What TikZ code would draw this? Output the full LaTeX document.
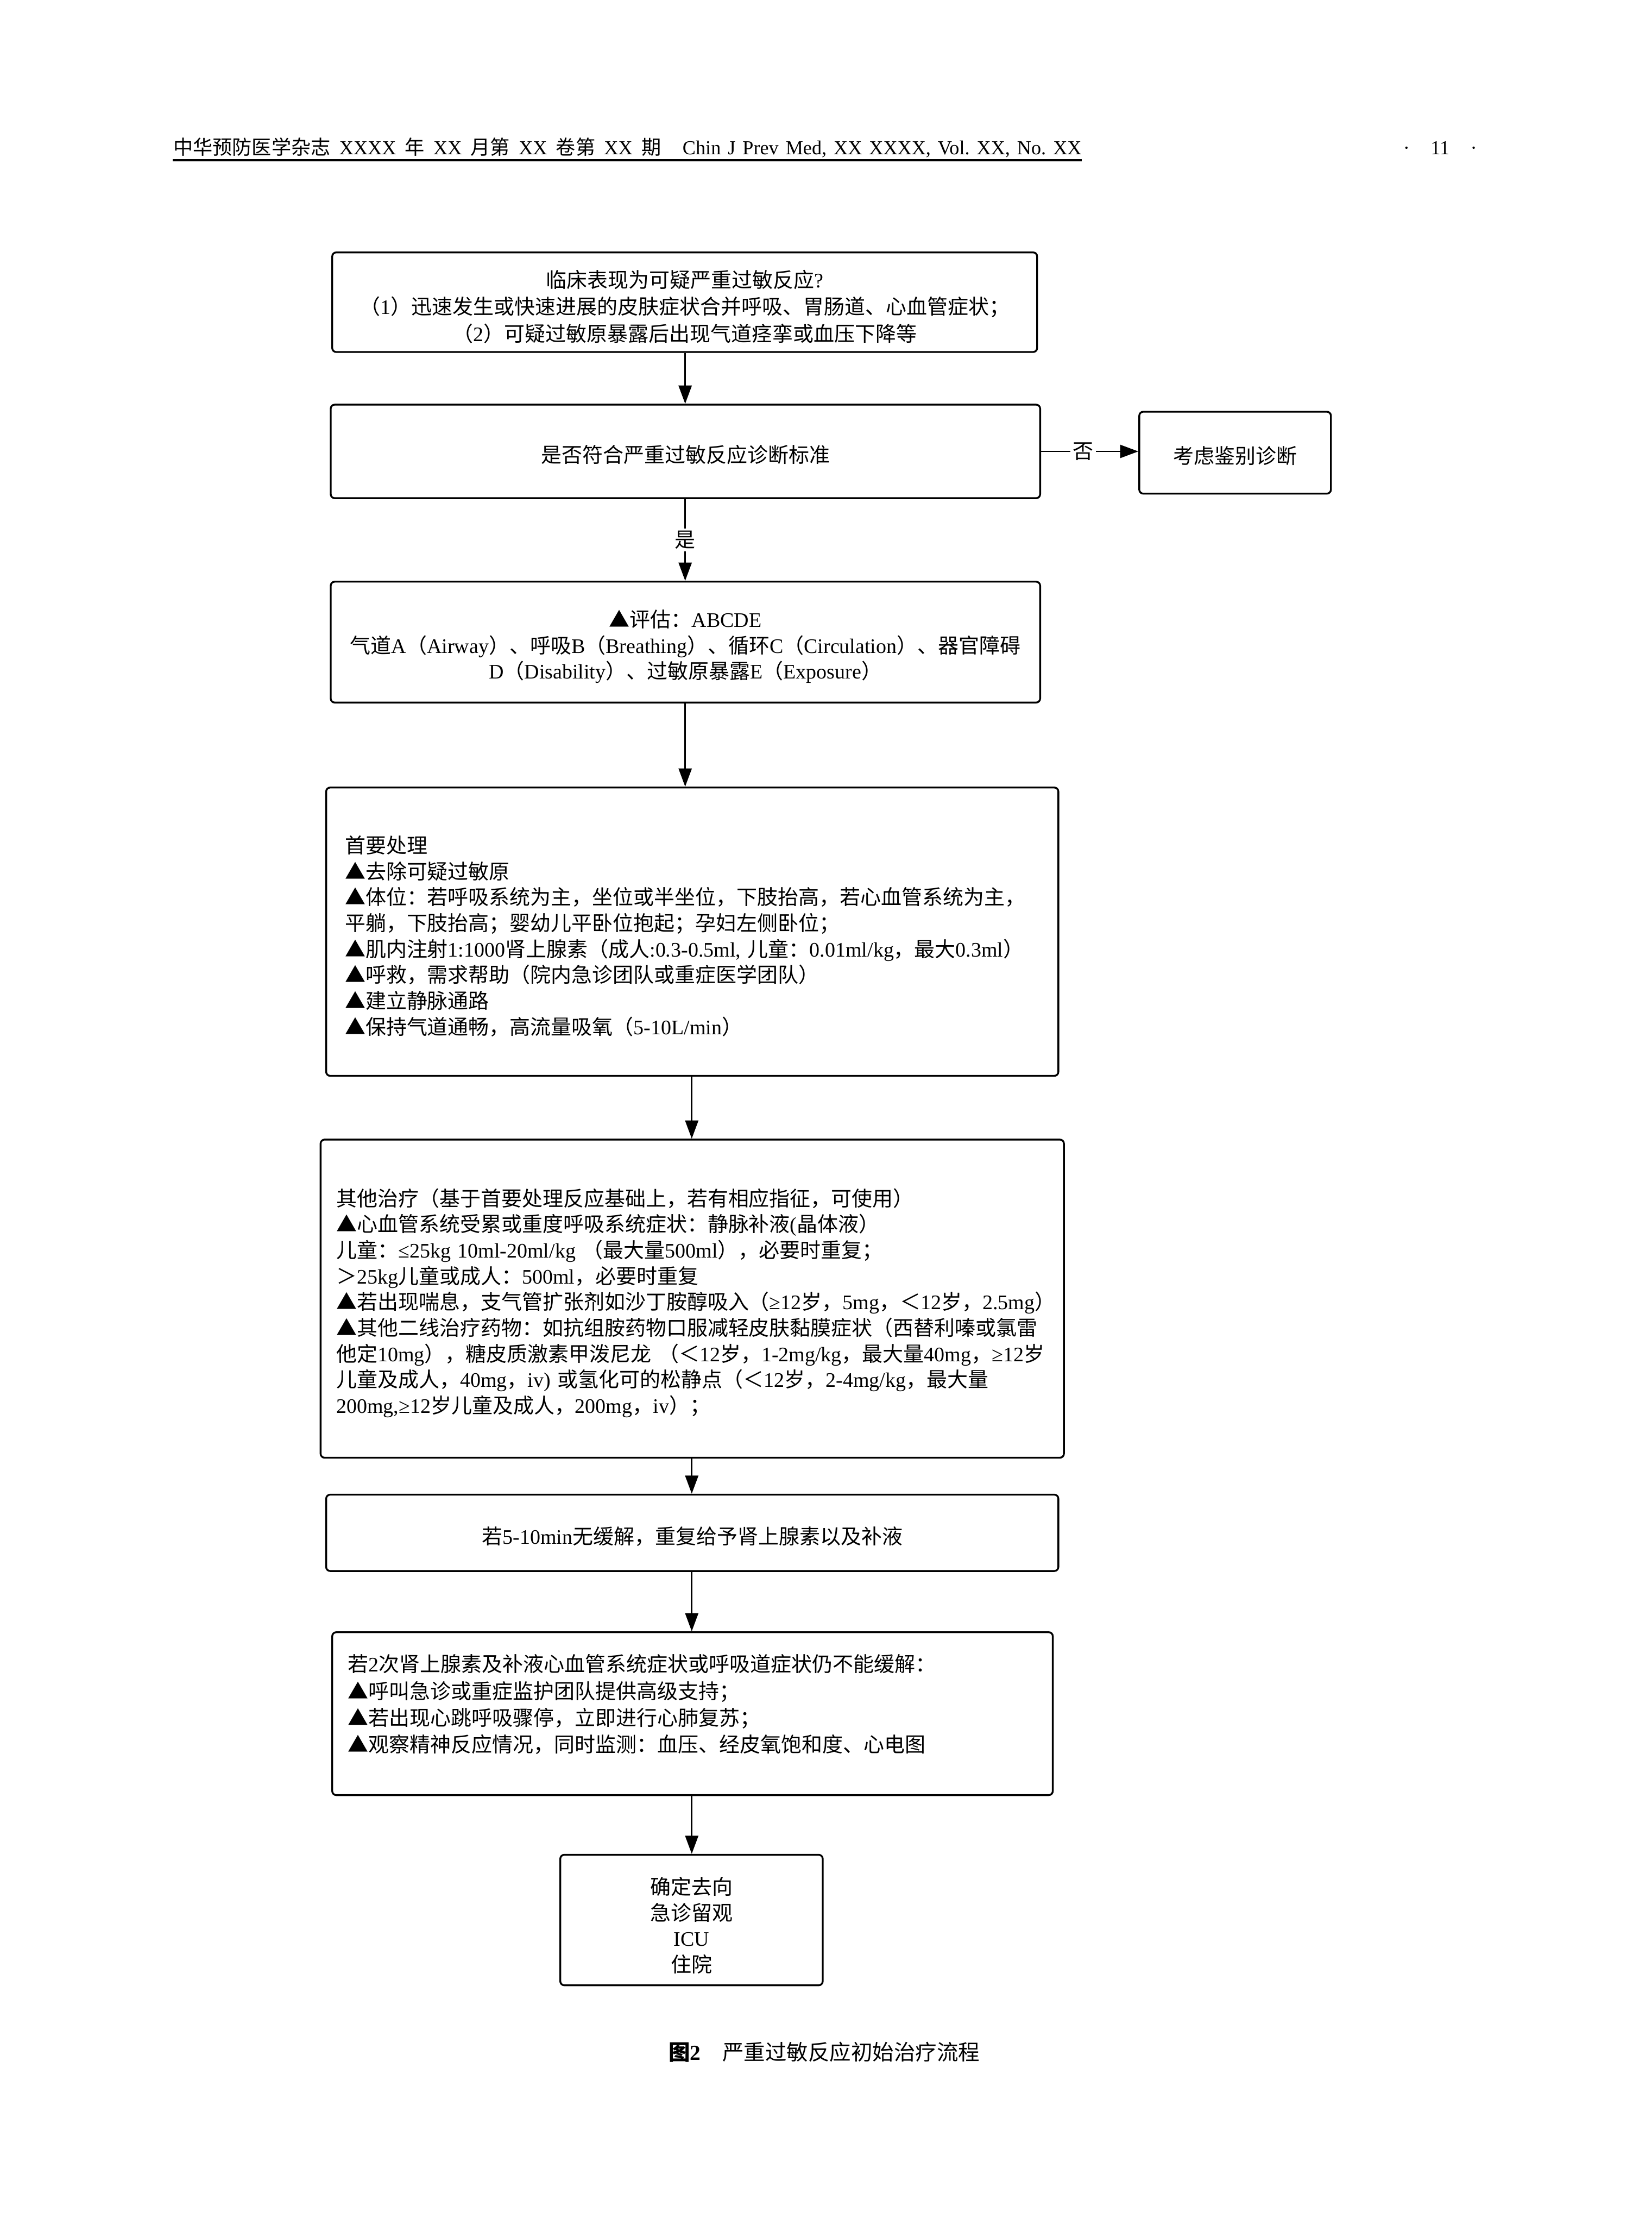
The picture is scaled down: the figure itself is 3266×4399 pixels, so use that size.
\documentclass[tikz,border=0pt]{standalone}
\usepackage{fontspec}
\setmainfont{Liberation Serif}
\newfontfamily\cjk{Noto Sans CJK SC}
\newfontfamily\lat{Liberation Serif}
\usetikzlibrary{arrows.meta}

\XeTeXinterchartokenstate=1
\newXeTeXintercharclass\CJKcls
\makeatletter
\newcount\cc@n
\def\setcjkrange#1#2{\cc@n=#1\relax
  \loop
    \XeTeXcharclass\cc@n=\CJKcls
  \ifnum\cc@n<#2\relax
    \advance\cc@n by 1\relax
  \repeat}
\makeatother
\setcjkrange{"4E00}{"9FFF}
\setcjkrange{"3000}{"303F}
\setcjkrange{"FF00}{"FFEF}
\XeTeXcharclass"25B2=\CJKcls
\XeTeXinterchartoks 0 \CJKcls = {\cjk}
\XeTeXinterchartoks 4095 \CJKcls = {\cjk}
\XeTeXinterchartoks \CJKcls 0 = {\lat}
\XeTeXinterchartoks \CJKcls 4095 = {\lat}

\newcommand{\hsa}{\hspace{0.45em}}
\newcommand{\hsb}{\hspace{0.36em}}
\newcommand{\topstrut}{\rule{0pt}{13pt}}

\begin{document}
\begin{tikzpicture}[x=0.25pt,y=-0.25pt,
  box/.style={draw,line width=0.9pt,rounded corners=2pt,inner sep=0pt,
    font=\fontsize{10.2pt}{12.8pt}\selectfont},
  oneline/.style={text height=12.2pt,text depth=1.2pt},
  arr/.style={line width=0.7pt,-{Triangle[length=9pt,width=6.5pt]}},
  lbl/.style={fill=white,inner sep=1.2pt,font=\fontsize{10.2pt}{12pt}\selectfont}]
\fill[white] (0,0) rectangle (3266,4399);
\useasboundingbox (0,0) rectangle (3266,4399);

% header
\node[anchor=base west,inner sep=0pt,font=\fontsize{9.8pt}{12pt}\selectfont] (hdr) at (342,306)
  {\resizebox{449pt}{\height}{中华预防医学杂志\hsa XXXX\hsa 年\hsa XX\hsa 月第\hsa XX\hsa 卷第\hsa XX\hsa 期\hspace{1.1em}Chin\hsb J\hsb Prev\hsb Med,\hsb XX\hsb XXXX,\hsb Vol.\hsb XX,\hsb No.\hsb XX}};
\draw[line width=1pt] ([yshift=-2.75pt]hdr.base west) -- ([yshift=-2.75pt]hdr.base east);
\node[anchor=base,inner sep=0pt,font=\fontsize{9.8pt}{12pt}\selectfont] (pg) at (2848,306)
  {·\hspace{1.05em}11\hspace{1.05em}·};

% boxes
\node[box,minimum width=348.5pt,minimum height=49.25pt,align=center,
  font=\fontsize{10.2pt}{13.3pt}\selectfont] (b1) at (1354,597.5)
  {\topstrut 临床表现为可疑严重过敏反应?\\
   （1）迅速发生或快速进展的皮肤症状合并呼吸、胃肠道、心血管症状；\\
   （2）可疑过敏原暴露后出现气道痉挛或血压下降等};

\node[box,oneline,minimum width=350.75pt,minimum height=46.25pt] (b2) at (1355.5,892.5)
  {是否符合严重过敏反应诊断标准};

\node[box,oneline,minimum width=94.75pt,minimum height=40.5pt] (side) at (2442.5,895)
  {考虑鉴别诊断};

\node[box,minimum width=350.75pt,minimum height=59.75pt,align=center] (b3) at (1355.5,1269.5)
  {\topstrut ▲评估：ABCDE\\
   气道A（Airway）、呼吸B（Breathing）、循环C（Circulation）、器官障碍\\
   D（Disability）、过敏原暴露E（Exposure）};

\node[box,minimum height=142.5pt,inner xsep=9.25pt,text width=343.5pt,align=left] (b4) at (1369,1842)
  {\topstrut 首要处理\\
   ▲去除可疑过敏原\\
   ▲体位：若呼吸系统为主，坐位或半坐位，下肢抬高，若心血管系统为主，\\
   平躺，下肢抬高；婴幼儿平卧位抱起；孕妇左侧卧位；\\
   ▲肌内注射1:1000肾上腺素（成人:0.3-0.5ml, 儿童：0.01ml/kg，最大0.3ml）\\
   ▲呼救，需求帮助（院内急诊团队或重症医学团队）\\
   ▲建立静脉通路\\
   ▲保持气道通畅，高流量吸氧（5-10L/min）};

\node[box,minimum height=157.25pt,inner xsep=7.75pt,text width=352pt,align=left] (b5) at (1369,2567.5)
  {\topstrut 其他治疗（基于首要处理反应基础上，若有相应指征，可使用）\\
   ▲心血管系统受累或重度呼吸系统症状：静脉补液(晶体液）\\
   儿童：≤25kg~10ml-20ml/kg~（最大量500ml），必要时重复；\\
   ＞25kg儿童或成人：500ml，必要时重复\\
   ▲若出现喘息，支气管扩张剂如沙丁胺醇吸入（≥12岁，5mg，＜12岁，2.5mg）\\
   ▲其他二线治疗药物：如抗组胺药物口服减轻皮肤黏膜症状（西替利嗪或氯雷\\
   他定10mg），糖皮质激素甲泼尼龙~（＜12岁，1-2mg/kg，最大量40mg，≥12岁\\
   儿童及成人，40mg，iv)~或氢化可的松静点（＜12岁，2-4mg/kg，最大量\\
   200mg,≥12岁儿童及成人，200mg，iv）；};

\node[box,oneline,minimum width=362pt,minimum height=37.75pt] (b6) at (1369,3030.5)
  {若5-10min无缓解，重复给予肾上腺素以及补液};

\node[box,minimum height=80.5pt,inner xsep=7.75pt,text width=340.75pt,align=left,
  font=\fontsize{10.2pt}{13.2pt}\selectfont] (b7) at (1369.5,3388)
  {若2次肾上腺素及补液心血管系统症状或呼吸道症状仍不能缓解：\\
   ▲呼叫急诊或重症监护团队提供高级支持；\\
   ▲若出现心跳呼吸骤停，立即进行心肺复苏；\\
   ▲观察精神反应情况，同时监测：血压、经皮氧饱和度、心电图\\[-3pt]\mbox{}};

\node[box,minimum width=129.75pt,minimum height=64.5pt,align=center] (b8) at (1367.5,3796)
  {\rule{0pt}{14pt}确定去向\\急诊留观\\ICU\\住院};

% caption
\node[anchor=base,inner sep=0pt,font=\fontsize{10.6pt}{12pt}\selectfont] (cap) at (1630,4073)
  {\textbf{图2}\hspace{1em}严重过敏反应初始治疗流程};

% connectors
\coordinate (c1) at (1355,0);
\coordinate (c2) at (1368,0);
\draw[arr] (b1.south -| c1) -- (b2.north -| c1);
\draw[arr] (b2.south -| c1) -- node[lbl]{是} (b3.north -| c1);
\draw[arr] (b2.east) -- node[lbl,pos=0.43]{否} (b2.east -| side.west);
\draw[arr] (b3.south -| c1) -- (b4.north -| c1);
\draw[arr] (b4.south -| c2) -- (b5.north -| c2);
\draw[arr] (b5.south -| c2) -- (b6.north -| c2);
\draw[arr] (b6.south -| c2) -- (b7.north -| c2);
\draw[arr] (b7.south -| c2) -- (b8.north -| c2);
\end{tikzpicture}
\end{document}
